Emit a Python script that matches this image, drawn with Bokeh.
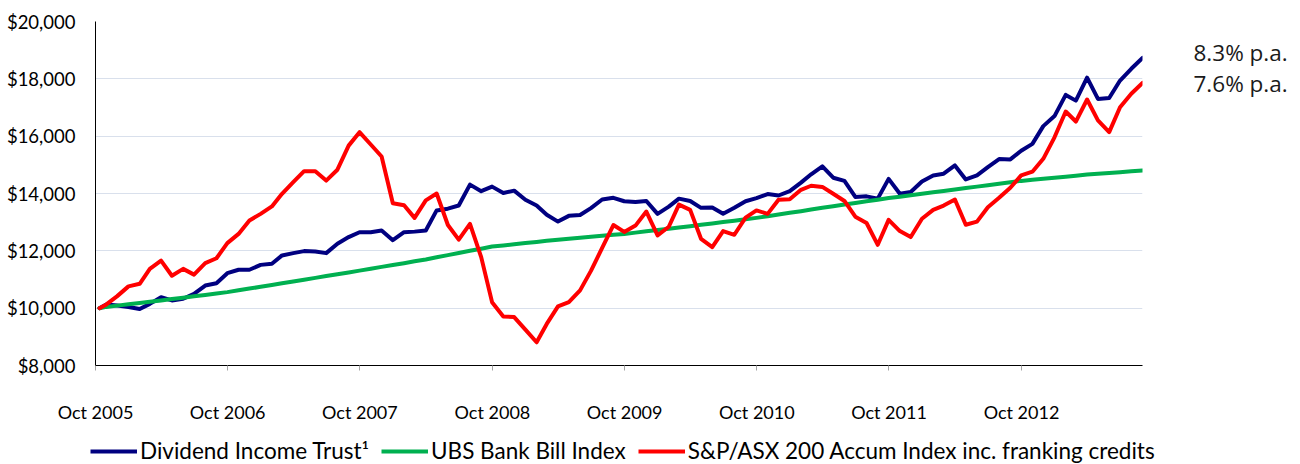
import pandas as pd
from bokeh.plotting import figure
from bokeh.layouts import row, column
from bokeh.models import (Range1d, FixedTicker, NumeralTickFormatter, Legend, LegendItem,
                          ColumnDataSource)
from bokeh.core.properties import value
from bokeh.embed import file_html
from bokeh.resources import INLINE

# ---------------- data ----------------
inception = "2005-10-12"
month_ends_from = "2005-11-01"   # month ends Oct 2005 .. Aug 2013
n_month_ends = 95

tick_dates = ["2005-10-01", "2006-10-01", "2007-10-01", "2008-10-01",
              "2009-10-01", "2010-10-01", "2011-10-01", "2012-10-01"]
tick_labels = ["Oct 2005", "Oct 2006", "Oct 2007", "Oct 2008",
               "Oct 2009", "Oct 2010", "Oct 2011", "Oct 2012"]

y_ticks = [8000, 10000, 12000, 14000, 16000, 18000, 20000]

dividend_income_trust = [
    10000, 10130, 10090, 10040, 9970, 10150, 10380, 10270, 10330, 10500,
    10790, 10870, 11220, 11340, 11340, 11510, 11550, 11840, 11920, 11990,
    11980, 11920, 12250, 12480, 12650, 12650, 12710, 12370, 12650, 12670,
    12710, 13410, 13470, 13580, 14310, 14080, 14240, 14020, 14100, 13780,
    13580, 13260, 13020, 13220, 13250, 13490, 13790, 13850, 13730, 13700,
    13740, 13290, 13540, 13820, 13740, 13500, 13510, 13290, 13500, 13730,
    13840, 13980, 13930, 14080, 14380, 14670, 14950, 14550, 14440, 13880,
    13900, 13820, 14510, 13990, 14050, 14420, 14630, 14690, 14980, 14490,
    14630, 14920, 15200, 15190, 15490, 15730, 16350, 16700, 17440, 17240,
    18040, 17300, 17330, 17940, 18350, 18730]

ubs_bank_bill = [
    10000, 10044, 10089, 10133, 10178, 10222, 10267, 10316, 10365, 10414,
    10463, 10512, 10560, 10622, 10683, 10745, 10807, 10868, 10930, 10993,
    11057, 11120, 11183, 11247, 11310, 11375, 11440, 11505, 11570, 11635,
    11700, 11775, 11850, 11925, 12000, 12075, 12150, 12190, 12230, 12270,
    12310, 12350, 12390, 12423, 12457, 12490, 12523, 12557, 12590, 12635,
    12680, 12725, 12770, 12815, 12860, 12908, 12957, 13005, 13053, 13102,
    13150, 13208, 13267, 13325, 13383, 13442, 13500, 13557, 13613, 13670,
    13727, 13783, 13840, 13890, 13940, 13990, 14040, 14090, 14140, 14190,
    14240, 14290, 14340, 14390, 14440, 14477, 14513, 14550, 14587, 14623,
    14660, 14688, 14716, 14744, 14772, 14800]

asx200_accum = [
    10000, 10130, 10420, 10760, 10850, 11370, 11660, 11130, 11370, 11170,
    11570, 11740, 12270, 12590, 13060, 13290, 13550, 13990, 14400, 14780,
    14780, 14450, 14830, 15670, 16140, 15710, 15290, 13660, 13590, 13150,
    13760, 14000, 12900, 12390, 12940, 11780, 10210, 9710, 9690, 9250,
    8810, 9450, 10060, 10210, 10620, 11300, 12100, 12900, 12660, 12880,
    13370, 12540, 12840, 13610, 13430, 12420, 12130, 12690, 12560, 13160,
    13410, 13290, 13780, 13800, 14130, 14270, 14230, 13990, 13740, 13190,
    12970, 12210, 13080, 12690, 12480, 13120, 13430, 13580, 13790, 12910,
    13020, 13520, 13850, 14200, 14630, 14760, 15210, 15960, 16860, 16510,
    17280, 16550, 16140, 17010, 17480, 17860]

series_names = ["Dividend Income Trust\u00b9", "UBS Bank Bill Index",
                "S&P/ASX 200 Accum Index inc. franking credits"]
series_colors = ["#000080", "#00B050", "#FF0000"]

pa_texts = ["8.3% p.a.", "7.6% p.a."]
pa_y = [18920, 17840]

# ---------------- geometry ----------------
W_MAIN, W_SIDE, TOTAL_H = 1152, 148, 464
H_TOP = 430
H_LEG = TOTAL_H - H_TOP
BORDER_T, BORDER_B, BORDER_L, BORDER_R = 21, 65, 95, 10
FONT = "Lato"

# ---------------- build ----------------
dates = pd.DatetimeIndex([inception]).append(
    pd.date_range(month_ends_from, periods=n_month_ends, freq="MS") - pd.Timedelta(days=1))

src = ColumnDataSource(dict(date=dates, dit=dividend_income_trust,
                            ubs=ubs_bank_bill, asx=asx200_accum))


def ms(d):
    return int(pd.Timestamp(d).value // 10**6)


yr = Range1d(y_ticks[0], y_ticks[-1])

p = figure(width=W_MAIN, height=H_TOP, x_axis_type="datetime",
           output_backend="svg", toolbar_location=None,
           x_range=Range1d(ms(tick_dates[0]), ms(dates[-1])), y_range=yr,
           min_border_left=BORDER_L, min_border_right=BORDER_R,
           min_border_top=BORDER_T, min_border_bottom=BORDER_B)
p.outline_line_color = None

xt = [ms(d) for d in tick_dates]
p.xaxis.ticker = FixedTicker(ticks=xt)
p.xaxis.major_label_overrides = {t: l for t, l in zip(xt, tick_labels)}
p.xaxis.axis_line_color = "black"
p.xaxis.major_tick_out = 5
p.xaxis.major_tick_in = 0
p.xaxis.major_tick_line_color = "#A6A6A6"
p.xaxis.minor_tick_line_color = None
p.xaxis.major_label_standoff = 30
p.xaxis.major_label_text_font = FONT
p.xaxis.major_label_text_font_size = "18px"
p.xaxis.major_label_text_color = "black"

p.yaxis.ticker = FixedTicker(ticks=y_ticks)
p.yaxis.formatter = NumeralTickFormatter(format="$0,0")
p.yaxis.axis_line_color = "black"
p.yaxis.major_tick_out = 0
p.yaxis.major_tick_in = 0
p.yaxis.minor_tick_line_color = None
p.yaxis.major_label_standoff = 20
p.yaxis.major_label_text_font = FONT
p.yaxis.major_label_text_font_size = "18.5px"
p.yaxis.major_label_text_color = "black"

p.xgrid.grid_line_color = None
p.ygrid.grid_line_color = "#D9E0EC"
p.ygrid.grid_line_width = 1

for key, col in zip(["dit", "ubs", "asx"], series_colors):
    p.line("date", key, source=src, line_color=col, line_width=4,
           line_join="round", line_cap="round")

# side panel with the annualised return texts (shares the y scale)
side = figure(width=W_SIDE, height=H_TOP, output_backend="svg", toolbar_location=None,
              x_range=Range1d(0, W_SIDE), y_range=yr,
              x_axis_location=None, y_axis_location=None,
              min_border_left=0, min_border_right=0,
              min_border_top=BORDER_T, min_border_bottom=BORDER_B)
side.outline_line_color = None
side.grid.grid_line_color = None
pa_src = ColumnDataSource(dict(x=[1193 - W_MAIN] * len(pa_texts), y=pa_y, t=pa_texts))
side.text(x="x", y="y", text="t", source=pa_src, text_font=value("Open Sans"),
          text_font_size="22.5px", text_color="#1A1A1A", text_baseline="middle",
          text_align="left")

# legend strip (legend renderers hold a placeholder point outside the visible range)
leg = figure(width=W_MAIN + W_SIDE, height=H_LEG, output_backend="svg", toolbar_location=None,
             x_range=Range1d(0, 1), y_range=Range1d(0, 1),
             x_axis_location=None, y_axis_location=None,
             min_border_left=0, min_border_right=0, min_border_top=0, min_border_bottom=0)
leg.outline_line_color = None
leg.grid.grid_line_color = None
items = []
for n, col in zip(series_names, series_colors):
    r = leg.line(x=[-10, -9], y=[-10, -9], line_color=col, line_width=4)
    items.append(LegendItem(label=n, renderers=[r]))
legend = Legend(items=items, orientation="horizontal", location=(90, 0),
                glyph_width=47, glyph_height=20, label_standoff=3, spacing=12,
                padding=0, margin=0, border_line_color=None, background_fill_alpha=0,
                label_text_font=FONT, label_text_font_size="22.5px",
                label_text_color="black")
leg.add_layout(legend, "center")

layout = column(row(p, side, spacing=0), leg, spacing=0)

open("out.html", "w").write(file_html(layout, INLINE))
